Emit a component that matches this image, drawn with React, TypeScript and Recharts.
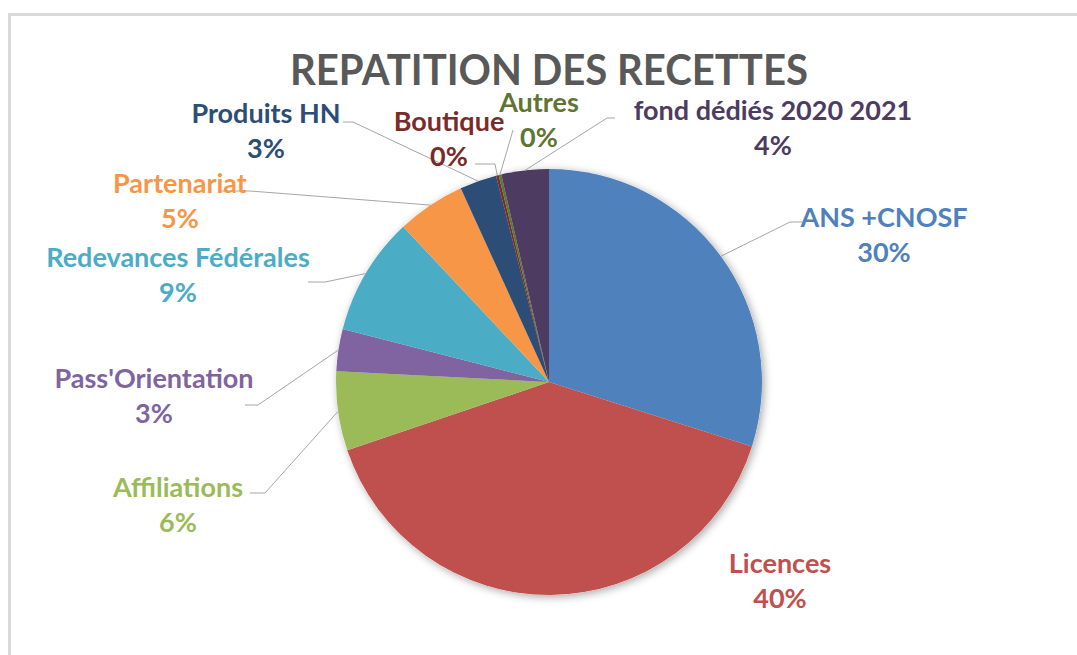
import React from "react";
import { PieChart, Pie, Cell } from "recharts";

const categories = [
  "ANS +CNOSF",
  "Licences",
  "Affiliations",
  "Pass'Orientation",
  "Redevances Fédérales",
  "Partenariat",
  "Produits HN",
  "Boutique",
  "Autres",
  "fond dédiés 2020 2021",
];
const shares = [29.9, 39.9, 6.0, 3.2, 9.0, 5.2, 2.8, 0.2, 0.2, 3.6];
const colors = [
  "#4F81BD",
  "#C0504D",
  "#9BBB59",
  "#8064A2",
  "#4BACC6",
  "#F79646",
  "#2C4D75",
  "#772C2A",
  "#5F7530",
  "#4D3B62",
];

const data = categories.map((name, i) => ({ name, value: shares[i] }));

// labels were dragged by hand in the original, so place them relative to the pie centre
const labelPos: [number, number][] = [
  [335, -148],
  [231, 198],
  [-371, 122],
  [-395, 13],
  [-371, -108],
  [-369, -182],
  [-283, -252],
  [-100, -244],
  [-10, -263],
  [224, -255],
];
// leader line: elbow then end, relative to the centre
const leaders: (number[] | null)[] = [
  [241, -160, 254, -160],
  null,
  [-284, 111, -299, 111],
  [-291, 23, -304, 23],
  [-224, -100, -241, -100],
  [-299, -191, -329, -191],
  [-196, -260, -206, -260],
  [-54, -218, -74, -218],
  [-36, -252, -36, -252],
  [58, -264, 66, -264],
];

const RAD = Math.PI / 180;

const renderLabel = (props: any) => {
  const { cx, cy, midAngle, outerRadius, index, percent } = props;
  const [ox, oy] = labelPos[index];
  const x = cx + ox;
  const y = cy + oy;
  const sx = cx + outerRadius * Math.cos(-midAngle * RAD);
  const sy = cy + outerRadius * Math.sin(-midAngle * RAD);
  const lead = leaders[index];
  return (
    <g key={`lbl-${index}`}>
      {lead && (
        <polyline
          points={`${sx},${sy} ${cx + lead[0]},${cy + lead[1]} ${cx + lead[2]},${cy + lead[3]}`}
          fill="none"
          stroke="#a6a6a6"
          strokeWidth={1}
        />
      )}
      <text
        x={x}
        y={y}
        textAnchor="middle"
        fill={colors[index]}
        fontFamily="Lato"
        fontWeight={700}
        fontSize={27}
      >
        <tspan x={x} dy={-7}>
          {categories[index]}
        </tspan>
        <tspan x={x} dy={35}>
          {Math.round(percent * 100)}%
        </tspan>
      </text>
    </g>
  );
};

const App: React.FC = () => {
  return (
    <div style={{ position: "absolute", left: 0, top: 0, width: 1077, height: 655, background: "#fff" }}>
      <div
        style={{
          position: "absolute",
          left: 8,
          top: 13,
          width: 1069,
          height: 642,
          borderTop: "3px solid #d9d9d9",
          borderLeft: "3px solid #d9d9d9",
          boxSizing: "border-box",
        }}
      />
      <PieChart
        width={1077}
        height={655}
        margin={{ top: 0, right: 0, bottom: 0, left: 0 }}
        style={{ position: "absolute", left: 0, top: 0 }}
      >
        <defs>
          <filter id="pieShadow" x="-20%" y="-20%" width="140%" height="140%">
            <feDropShadow dx="2" dy="2" stdDeviation="4" floodColor="#000" floodOpacity="0.35" />
          </filter>
        </defs>
        <Pie
          data={data}
          dataKey="value"
          cx={549}
          cy={382}
          outerRadius={213}
          startAngle={90}
          endAngle={-270}
          stroke="none"
          fill="#fff"
          isAnimationActive={false}
          label={false}
          labelLine={false}
        >
          {data.map((d, i) => (
            <Cell key={`sh-${i}`} fill="#fff" filter="url(#pieShadow)" />
          ))}
        </Pie>
        <Pie
          data={data}
          dataKey="value"
          nameKey="name"
          cx={549}
          cy={382}
          outerRadius={213}
          startAngle={90}
          endAngle={-270}
          stroke="none"
          isAnimationActive={false}
          label={renderLabel}
          labelLine={false}
        >
          {data.map((d, i) => (
            <Cell key={`c-${i}`} fill={colors[i]} />
          ))}
        </Pie>
      </PieChart>
      <svg width={1077} height={120} style={{ position: "absolute", left: 0, top: 0 }}>
        <text
          x={549}
          y={85}
          textAnchor="middle"
          fill="#595959"
          fontFamily="Lato"
          fontWeight={700}
          fontSize={42}
          textLength={518}
          lengthAdjust="spacingAndGlyphs"
        >
          REPATITION DES RECETTES
        </text>
      </svg>
    </div>
  );
};

export default App;
